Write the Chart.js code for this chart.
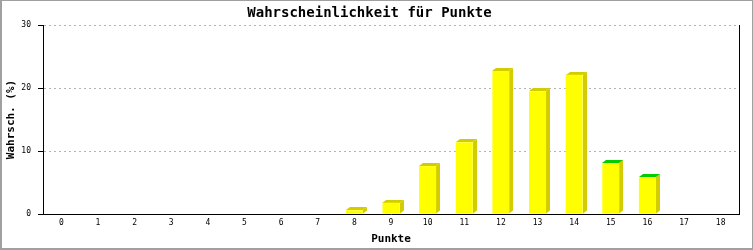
<!DOCTYPE html>
<html>
<head>
<meta charset="utf-8">
<script src="https://cdn.jsdelivr.net/npm/chart.js@4.4.0/dist/chart.umd.min.js"></script>
<style>
  html, body { margin: 0; padding: 0; background: #fff; }
  #wrap { width: 753px; height: 250px; }
</style>
</head>
<body>
<div id="wrap"><canvas id="chart" width="753" height="250"></canvas></div>
<script>
// Data
const categories = ['0', '1', '2', '3', '4', '5', '6', '7', '8', '9', '10', '11', '12', '13', '14', '15', '16', '17', '18'];
const probabilities = [0, 0, 0, 0, 0, 0, 0, 0, 0.6, 1.8, 7.6, 11.4, 22.7, 19.5, 22.1, 8.1, 5.8, 0, 0];
const yMin = 0;
const yMax = 30;
const yStep = 10;

// Colours
const FRONT = '#ffff00';
const SIDE = '#d2cc00';
const GREEN_TOP = '#00cc00';
const greenTopCategories = ['15', '16'];

const MONO = '"DejaVu Sans Mono", "Liberation Mono", monospace';

// 3D look: side and top face behind each bar
const barDepth = {
  id: 'barDepth',
  beforeDatasetsDraw(chart) {
    const ctx = chart.ctx;
    const meta = chart.getDatasetMeta(0);
    meta.data.forEach((bar, i) => {
      if (!probabilities[i]) return;
      const { x, y, base, width } = bar.getProps(['x', 'y', 'base', 'width'], true);
      const left = Math.round(x - width / 2);
      const right = Math.round(x + width / 2);
      const top = Math.round(y);
      const dx = 4, dy = 3;
      ctx.save();
      ctx.fillStyle = SIDE;
      ctx.beginPath();
      ctx.moveTo(right, top);
      ctx.lineTo(right + dx, top - dy);
      ctx.lineTo(right + dx, base - dy);
      ctx.lineTo(right, base);
      ctx.closePath();
      ctx.fill();
      ctx.fillStyle = greenTopCategories.includes(categories[i]) ? GREEN_TOP : SIDE;
      ctx.beginPath();
      ctx.moveTo(left, top);
      ctx.lineTo(left + dx, top - dy);
      ctx.lineTo(right + dx, top - dy);
      ctx.lineTo(right, top);
      ctx.closePath();
      ctx.fill();
      ctx.restore();
    });
  }
};

// right edge line of the plot and grey outer frame
const frame = {
  id: 'frame',
  beforeDraw(chart) {
    const ctx = chart.ctx;
    ctx.save();
    ctx.fillStyle = '#fff';
    ctx.fillRect(0, 0, chart.width, chart.height);
    ctx.restore();
  },
  afterDraw(chart) {
    const ctx = chart.ctx;
    const a = chart.chartArea;
    ctx.save();
    ctx.strokeStyle = '#000';
    ctx.lineWidth = 1;
    ctx.beginPath();
    ctx.moveTo(a.right + 0.5, a.top);
    ctx.lineTo(a.right + 0.5, a.bottom);
    ctx.stroke();
    ctx.fillStyle = '#a0a0a0';
    ctx.fillRect(0, 0, chart.width, 1);
    ctx.fillRect(0, 0, 2, chart.height);
    ctx.fillRect(0, chart.height - 2, chart.width, 2);
    ctx.fillRect(chart.width - 1, 0, 1, chart.height);
    ctx.restore();
  }
};

new Chart(document.getElementById('chart'), {
  type: 'bar',
  data: {
    labels: categories,
    datasets: [{
      label: 'Wahrscheinlichkeit',
      data: probabilities,
      backgroundColor: FRONT,
      borderWidth: 0,
      barPercentage: 0.465,
      categoryPercentage: 1
    }]
  },
  options: {
    responsive: false,
    animation: false,
    layout: { padding: { left: 0, right: 14, top: 0, bottom: 0 } },
    plugins: {
      legend: { display: false },
      tooltip: { enabled: false },
      title: {
        display: true,
        text: 'Wahrscheinlichkeit für Punkte',
        color: '#000',
        font: { family: MONO, size: 14, weight: 'bold' },
        padding: { top: 5, bottom: 3.2 }
      }
    },
    scales: {
      x: {
        grid: { display: false, drawTicks: false },
        border: { display: true, color: '#000', width: 1 },
        ticks: {
          color: '#000',
          font: { family: MONO, size: 8 },
          padding: 4,
          maxRotation: 0,
          autoSkip: false
        },
        title: {
          display: true,
          text: 'Punkte',
          color: '#000',
          font: { family: MONO, size: 11, weight: 'bold' },
          padding: { top: 0, bottom: 4 }
        },
        afterFit(scale) { scale.height = 36; }
      },
      y: {
        min: yMin,
        max: yMax,
        ticks: {
          stepSize: yStep,
          color: '#000',
          font: { family: MONO, size: 8 },
          padding: 7
        },
        grid: {
          color: ctx => (ctx.tick && ctx.tick.value === 0 ? 'rgba(0,0,0,0)' : '#b4b4b4'),
          tickColor: '#000',
          tickLength: 5,
          tickBorderDash: []
        },
        border: { display: true, color: '#000', width: 1, dash: [2, 3] },
        title: {
          display: true,
          text: 'Wahrsch. (%)',
          color: '#000',
          font: { family: MONO, size: 11, weight: 'bold' },
          padding: { top: 5, bottom: 0 }
        },
        afterFit(scale) { scale.width = 43; }
      }
    }
  },
  plugins: [barDepth, frame]
});
</script>
</body>
</html>
